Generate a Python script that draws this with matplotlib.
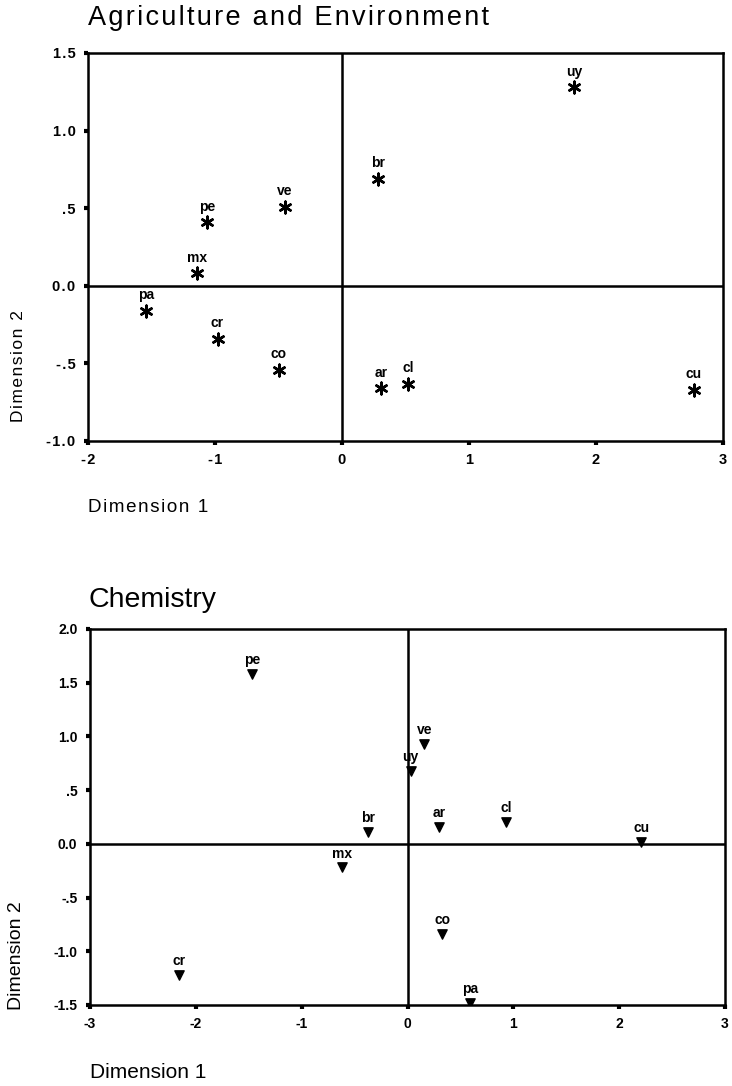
import numpy as np
import matplotlib
matplotlib.use("Agg")
from matplotlib import pyplot as plt

plt.rcParams["font.family"] = ["Liberation Sans", "DejaVu Sans"]

# Agriculture and Environment
agr_codes = ["uy", "br", "pe", "ve", "mx", "pa", "cr", "co", "ar", "cl", "cu"]
agr_dim1 = [1.83, 0.28, -1.06, -0.45, -1.14, -1.54, -0.98, -0.50, 0.31, 0.52, 2.77]
agr_dim2 = [1.28, 0.69, 0.41, 0.51, 0.08, -0.16, -0.34, -0.54, -0.66, -0.63, -0.67]
agr_xticks = [-2, -1, 0, 1, 2, 3]
agr_yticks = [-1.0, -0.5, 0.0, 0.5, 1.0, 1.5]
agr_yticklabels = ["-1.0", "-.5", "0.0", ".5", "1.0", "1.5"]

# Chemistry
chem_codes = ["pe", "ve", "uy", "br", "mx", "cr", "ar", "cl", "cu", "co", "pa"]
chem_dim1 = [-1.47, 0.16, 0.03, -0.37, -0.62, -2.16, 0.30, 0.93, 2.21, 0.33, 0.59]
chem_dim2 = [1.58, 0.93, 0.68, 0.11, -0.22, -1.22, 0.16, 0.20, 0.02, -0.84, -1.48]
chem_xticks = [-3, -2, -1, 0, 1, 2, 3]
chem_yticks = [-1.5, -1.0, -0.5, 0.0, 0.5, 1.0, 1.5, 2.0]
chem_yticklabels = ["-1.5", "-1.0", "-.5", "0.0", ".5", "1.0", "1.5", "2.0"]

fig = plt.figure(figsize=(7.32, 10.86), dpi=100)
W, H = 732, 1086


def spaced(s):
    # the scanned top chart uses wide letter spacing
    return "\u200a".join(s)


def style_axes(ax, xticks, yticks, yticklabels, xlim, ylim, fs, sp=False):
    ax.set_xlim(*xlim)
    ax.set_ylim(*ylim)
    f = spaced if sp else (lambda s: s)
    ax.set_xticks(xticks)
    ax.set_xticklabels([f(str(t)) for t in xticks], fontweight="bold", fontsize=fs)
    ax.set_yticks(yticks)
    ax.set_yticklabels([f(t) for t in yticklabels], fontweight="bold", fontsize=fs)
    for s in ax.spines.values():
        s.set_linewidth(1.8)
    ax.tick_params(direction="out", length=3, width=3, pad=6)
    ax.axhline(0, color="black", lw=1.8, zorder=1)
    ax.axvline(0, color="black", lw=1.8, zorder=1)


# top chart
ax1 = fig.add_axes([88 / W, 1 - 441 / H, (723 - 88) / W, (441 - 53) / H])
ax1.scatter(agr_dim1, agr_dim2, marker=(6, 2, 0), s=70, color="black", linewidths=1.8, zorder=3)
for c, x, y in zip(agr_codes, agr_dim1, agr_dim2):
    ax1.annotate(c, (x, y), xytext=(0, 6), textcoords="offset points",
                 ha="center", va="bottom", fontsize=10, fontweight="bold")
style_axes(ax1, agr_xticks, agr_yticks, agr_yticklabels, (-2, 3), (-1.0, 1.5), 10.5, sp=True)
fig.text(88 / W, 1 - 18 / H, spaced("Agriculture and Environment"), fontsize=19.5, va="center", ha="left")
fig.text(88 / W, 1 - 507 / H, spaced("Dimension 1"), fontsize=13.5, va="center", ha="left")
fig.text(19 / W, 1 - 422 / H, spaced("Dimension 2"), fontsize=12.5, va="bottom", ha="center", rotation=90)

# bottom chart
ax2 = fig.add_axes([90 / W, 1 - 1005 / H, (725 - 90) / W, (1005 - 629) / H])
ax2.scatter(chem_dim1, chem_dim2, marker="v", s=45, color="black", zorder=3)
for c, x, y in zip(chem_codes, chem_dim1, chem_dim2):
    ax2.annotate(c, (x, y), xytext=(0, 5), textcoords="offset points",
                 ha="center", va="bottom", fontsize=10, fontweight="bold")
style_axes(ax2, chem_xticks, chem_yticks, chem_yticklabels, (-3, 3), (-1.5, 2.0), 10)
fig.text(88 / W, 1 - 600 / H, "Chemistry", fontsize=20.5, va="center", ha="left")
fig.text(90 / W, 1 - 1073 / H, "Dimension 1", fontsize=15, va="center", ha="left")
fig.text(17 / W, 1 - 1010 / H, "Dimension 2", fontsize=14, va="bottom", ha="center", rotation=90)

fig.savefig("out.png", dpi=100)
